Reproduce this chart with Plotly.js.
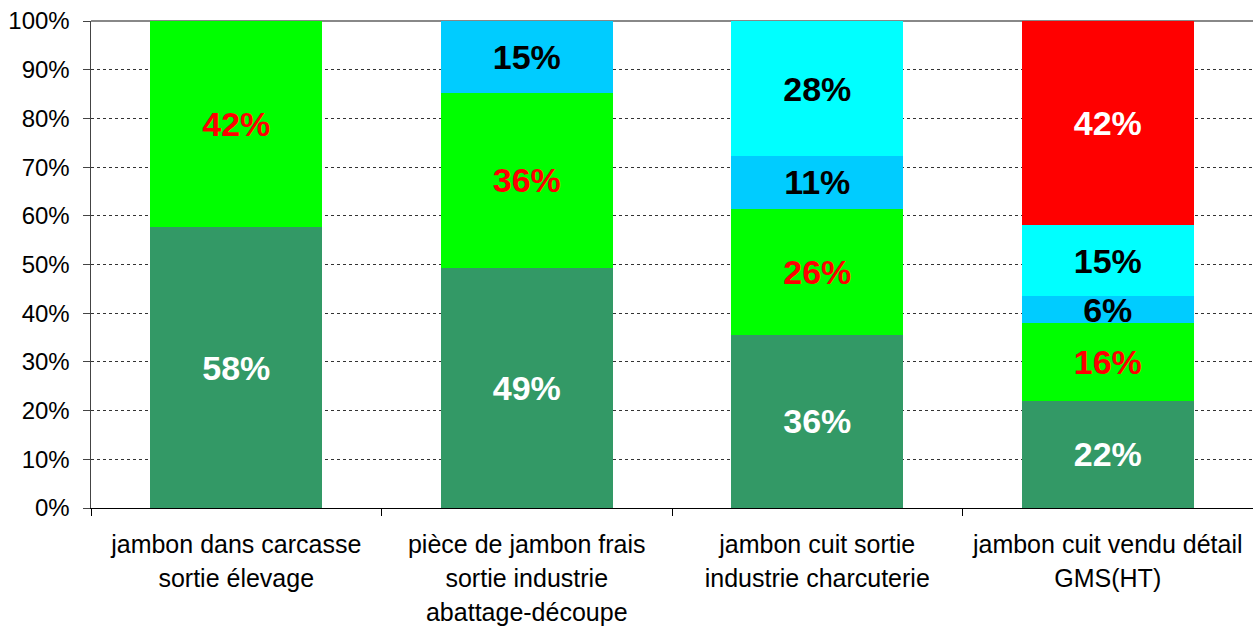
<!DOCTYPE html>
<html>
<head>
<meta charset="utf-8">
<script src="https://cdn.plot.ly/plotly-3.0.1.min.js"></script>
<style>html,body{margin:0;padding:0;background:#fff;}#chart{width:1253px;height:628px;}</style>
</head>
<body>
<div id="chart"></div>
<script>
const categories = [
  "jambon dans carcasse<br>sortie élevage",
  "pièce de jambon frais<br>sortie industrie<br>abattage-découpe",
  "jambon cuit sortie<br>industrie charcuterie",
  "jambon cuit vendu détail<br>GMS(HT)"
];
const seriesDarkGreen = [57.6, 49.3, 35.6, 22.0];
const seriesGreen     = [42.4, 35.9, 25.9, 16.0];
const seriesBlue      = [null, 14.8, 10.7, 5.5];
const seriesCyan      = [null, null, 27.8, 14.6];
const seriesRed       = [null, null, null, 41.9];
const yTickValues = [0,10,20,30,40,50,60,70,80,90,100];
const yTickLabels = ["0%","10%","20%","30%","40%","50%","60%","70%","80%","90%","100%"];

const catIds = categories.map((c, i) => 'c' + i);
const catText = categories.map(c => c.split('<br>').map(s => '<span style="font-size:25px">' + s + '</span>').join('<br>'));

function mk(name, vals, color, textColor) {
  return {
    type: 'bar', name: name, x: catIds, y: vals,
    marker: {color: color, line: {width: 0}},
    texttemplate: '%{y:.0f}%',
    textposition: 'inside',
    insidetextanchor: 'middle',
    constraintext: 'none',
    textangle: 0,
    textfont: {family: 'Liberation Sans, Arial, sans-serif', size: 34, color: textColor, weight: 'bold'},
    hoverinfo: 'skip'
  };
}

const data = [
  mk('s1', seriesDarkGreen, '#339966', '#ffffff'),
  mk('s2', seriesGreen, '#00ff00', '#ff0000'),
  mk('s3', seriesBlue, '#00ccff', '#000000'),
  mk('s4', seriesCyan, '#00ffff', '#000000'),
  mk('s5', seriesRed, '#ff0000', '#ffffff')
];

const layout = {
  width: 1253, height: 628,
  margin: {l: 91, r: 0, t: 21, b: 120},
  barmode: 'stack',
  bargap: 0.408,
  showlegend: false,
  paper_bgcolor: '#ffffff',
  plot_bgcolor: '#ffffff',
  uniformtext: {mode: 'show', minsize: 34},
  font: {family: 'Liberation Sans, Arial, sans-serif', color: '#000'},
  xaxis: {
    type: 'category',
    tickvals: catIds,
    ticktext: catText,
    tickson: 'boundaries',
    ticks: 'outside', ticklen: 7, tickcolor: '#000', tickwidth: 1,
    showline: true, linecolor: '#000', linewidth: 1,
    showgrid: false,
    tickfont: {size: 26, color: '#000'},
    ticklabelstandoff: 13
  },
  yaxis: {
    range: [0, 100],
    tickmode: 'array',
    tickvals: yTickValues,
    ticktext: yTickLabels,
    ticks: 'outside', ticklen: 7, tickcolor: '#444', tickwidth: 1,
    showline: true, linecolor: '#444', linewidth: 1.5,
    showgrid: true, gridcolor: '#333', griddash: 'dot', gridwidth: 1,
    zeroline: false,
    tickfont: {size: 24, color: '#000'},
    ticklabelstandoff: 8
  },
  shapes: [{type: 'line', xref: 'paper', yref: 'paper', x0: 0, x1: 1, y0: 1, y1: 1, layer: 'between', line: {color: '#888', width: 2}}]
};

Plotly.newPlot('chart', data, layout, {displayModeBar: false, staticPlot: true});
</script>
</body>
</html>
